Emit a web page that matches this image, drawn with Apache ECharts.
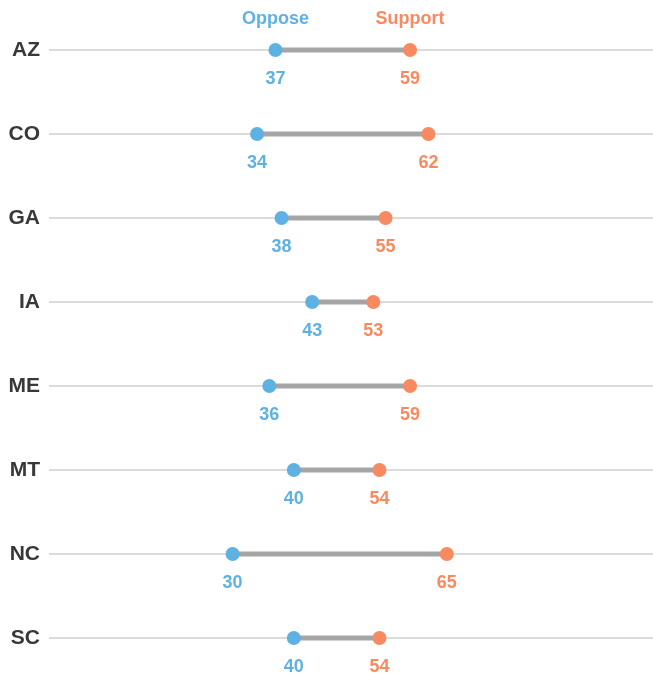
<!DOCTYPE html>
<html>
<head>
<meta charset="utf-8">
<style>
  html, body { margin: 0; padding: 0; background: #fff; }
  #chart { width: 653px; height: 675px; }
</style>
<script src="https://cdn.jsdelivr.net/npm/echarts@6/dist/echarts.min.js"></script>
</head>
<body>
<div id="chart"></div>
<script>
const states = ['AZ', 'CO', 'GA', 'IA', 'ME', 'MT', 'NC', 'SC'];
const oppose = [37, 34, 38, 43, 36, 40, 30, 40];
const support = [59, 62, 55, 53, 59, 54, 65, 54];
const seriesNames = ['Oppose', 'Support'];

const BLUE = '#5eb1e3';
const ORANGE = '#f78a60';
const FONT = '"Liberation Sans", Arial, sans-serif';

const chart = echarts.init(document.getElementById('chart'));

const valueLabel = (color) => ({
  show: true,
  position: 'bottom',
  distance: 13,
  color: color,
  fontSize: 18,
  fontWeight: 'bold',
  fontFamily: FONT,
  formatter: (p) => p.value[0]
});

const headerLabel = (color) => ({
  show: true,
  position: 'top',
  distance: 22,
  color: color,
  fontSize: 18,
  fontWeight: 'bold',
  fontFamily: FONT,
  formatter: (p) => p.seriesName.replace(' header', '')
});

chart.setOption({
  animation: false,
  grid: { left: 49, top: 50, bottom: 37, width: 612, containLabel: false, outerBoundsMode: 'none' },
  xAxis: {
    type: 'value', min: 0, max: 100,
    axisLine: { show: false }, axisTick: { show: false },
    axisLabel: { show: false }, splitLine: { show: false }
  },
  yAxis: {
    type: 'category', data: states, inverse: true, boundaryGap: false,
    axisLine: { show: false }, axisTick: { show: false },
    splitLine: { show: true, lineStyle: { color: '#cfcfcf', width: 1.5 } },
    axisLabel: { color: '#383838', fontSize: 21, fontWeight: 'bold', fontFamily: FONT, margin: 9 }
  },
  series: [
    {
      type: 'custom',
      name: 'range',
      z: 1,
      silent: true,
      encode: { x: [0, 1], y: 2 },
      data: states.map((s, i) => [oppose[i], support[i], i]),
      renderItem: (params, api) => {
        const a = api.coord([api.value(0), api.value(2)]);
        const b = api.coord([api.value(1), api.value(2)]);
        return {
          type: 'line',
          shape: { x1: a[0], y1: a[1], x2: b[0], y2: b[1] },
          style: { stroke: '#a5a5a5', lineWidth: 5 }
        };
      }
    },
    {
      type: 'scatter', name: seriesNames[0], z: 3,
      symbolSize: 14, itemStyle: { color: BLUE, opacity: 1 },
      data: states.map((s, i) => [oppose[i], s]),
      label: valueLabel(BLUE)
    },
    {
      type: 'scatter', name: seriesNames[1], z: 3,
      symbolSize: 14, itemStyle: { color: ORANGE, opacity: 1 },
      data: states.map((s, i) => [support[i], s]),
      label: valueLabel(ORANGE)
    },
    {
      type: 'scatter', name: seriesNames[0] + ' header', silent: true,
      symbolSize: 0, itemStyle: { color: BLUE, opacity: 1 },
      data: [[oppose[0], states[0]]],
      label: headerLabel(BLUE)
    },
    {
      type: 'scatter', name: seriesNames[1] + ' header', silent: true,
      symbolSize: 0, itemStyle: { color: ORANGE, opacity: 1 },
      data: [[support[0], states[0]]],
      label: headerLabel(ORANGE)
    }
  ]
});
</script>
</body>
</html>
